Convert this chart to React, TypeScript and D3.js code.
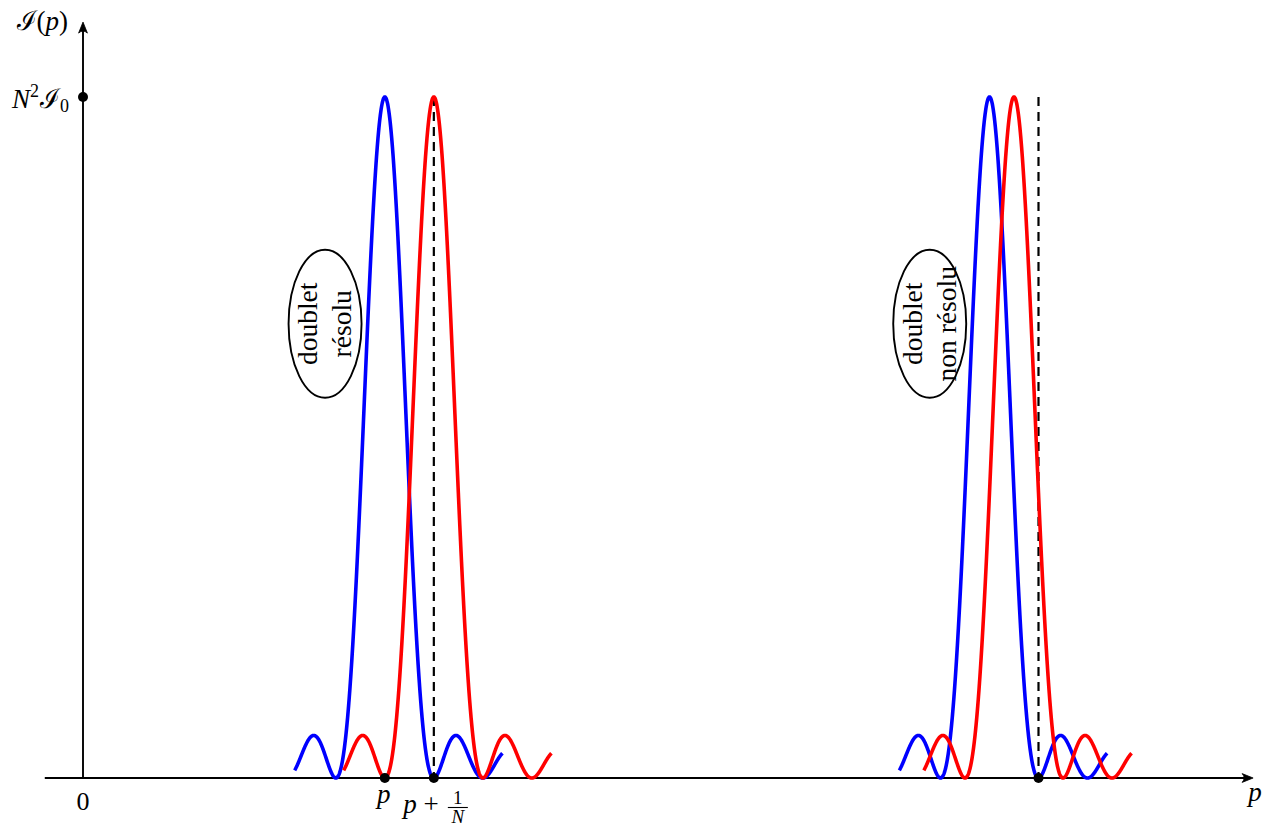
import React from 'react';
import * as d3 from 'd3';

// ---- data ----
const N_SLITS = 5; // number of slits used for the diffraction profile
const bluePeaks = [6.16, 18.5]; // peak positions (units of 1/N)
const redPeaks = [7.16, 19.0];
const lobeRange = [-1.84, 2.4]; // plotted extent around each peak (units of 1/N)
const dashedMarks = [7.16, 19.5];
const axisDots = [6.16, 7.16, 19.5];
const peakLevel = [1];
const xAxisExtent = [-0.78, 23.88];
const yAxisExtent = [0, 1.11];
const annotations = [
  { cx: 4.94, cy: 0.667, lines: ['doublet', 'résolu'] },
  { cx: 17.28, cy: 0.667, lines: ['doublet', 'non résolu'] },
];

const W = 1270;
const H = 826;
const FONT = '"Liberation Serif", "DejaVu Serif", serif';

const x = d3.scaleLinear().domain([0, 1]).range([83, 132]);
const y = d3.scaleLinear().domain([0, 1]).range([778, 97]);

function intensity(u: number): number {
  const den = N_SLITS * Math.sin((Math.PI * u) / N_SLITS);
  if (Math.abs(den) < 1e-9) return 1;
  const r = Math.sin(Math.PI * u) / den;
  return r * r;
}

function profile(peak: number): [number, number][] {
  const pts: [number, number][] = [];
  const step = 0.005;
  for (let u = lobeRange[0]; u <= lobeRange[1] + 1e-9; u += step) {
    pts.push([peak + u, intensity(u)]);
  }
  return pts;
}

const line = d3
  .line<[number, number]>()
  .x((d) => x(d[0]))
  .y((d) => y(d[1]));

function ArrowHead({ tx, ty, dir }: { tx: number; ty: number; dir: 'right' | 'up' }) {
  const L = 11;
  const w = 4.4;
  let d: string;
  if (dir === 'right') {
    d = `M${tx},${ty} L${tx - L},${ty - w} Q${tx - L + 4},${ty} ${tx - L},${ty + w} Z`;
  } else {
    d = `M${tx},${ty} L${tx - w},${ty + L} Q${tx},${ty + L - 4} ${tx + w},${ty + L} Z`;
  }
  return <path d={d} fill="#000" stroke="#000" strokeWidth={0.8} strokeLinejoin="round" />;
}

export default function App() {
  const x0 = x(xAxisExtent[0]);
  const x1 = x(xAxisExtent[1]);
  const yBase = y(0);
  const yTop = y(yAxisExtent[1]);
  const yAxisX = x(0);

  return (
    <svg
      width={W}
      height={H}
      viewBox={`0 0 ${W} ${H}`}
      style={{ position: 'absolute', left: 0, top: 0, background: '#fff' }}
      fontFamily={FONT}
    >
      {/* axes */}
      <line x1={x0} y1={yBase} x2={x1 - 4} y2={yBase} stroke="#000" strokeWidth={1.9} />
      <ArrowHead tx={x1} ty={yBase} dir="right" />
      <line x1={yAxisX} y1={yBase} x2={yAxisX} y2={yTop + 4} stroke="#000" strokeWidth={1.9} />
      <ArrowHead tx={yAxisX} ty={yTop} dir="up" />

      {/* dashed markers */}
      {dashedMarks.map((m, i) => (
        <line
          key={'d' + i}
          x1={x(m)}
          y1={y(peakLevel[0])}
          x2={x(m)}
          y2={yBase}
          stroke="#000"
          strokeWidth={2.2}
          strokeDasharray="9 6"
        />
      ))}

      {/* curves */}
      {bluePeaks.map((p, i) => (
        <path key={'b' + i} d={line(profile(p)) || ''} fill="none" stroke="#0000ff" strokeWidth={3.6} />
      ))}
      {redPeaks.map((p, i) => (
        <path key={'r' + i} d={line(profile(p)) || ''} fill="none" stroke="#ff0000" strokeWidth={3.6} />
      ))}

      {/* dots */}
      <circle cx={yAxisX} cy={y(peakLevel[0])} r={5} fill="#000" />
      {axisDots.map((d, i) => (
        <circle key={'c' + i} cx={x(d)} cy={yBase} r={5} fill="#000" />
      ))}

      {/* annotations */}
      {annotations.map((a, i) => {
        const cx = x(a.cx);
        const cy = y(a.cy);
        return (
          <g key={'a' + i}>
            <ellipse cx={cx} cy={cy} rx={36.5} ry={74} fill="none" stroke="#000" strokeWidth={1.9} />
            <g transform={`translate(${cx},${cy}) rotate(-90)`}>
              <text x={0} y={-8} textAnchor="middle" fontSize={27.5}>
                {a.lines[0]}
              </text>
              <text x={0} y={26} textAnchor="middle" fontSize={27.5}>
                {a.lines[1]}
              </text>
            </g>
          </g>
        );
      })}

      {/* labels */}
      <text x={68} y={30} textAnchor="end" fontSize={27}>
        <tspan>ℐ</tspan>
        <tspan>(</tspan>
        <tspan fontStyle="italic">p</tspan>
        <tspan>)</tspan>
      </text>
      <text x={69} y={108} textAnchor="end" fontSize={27}>
        <tspan fontStyle="italic">N</tspan>
        <tspan fontSize={18} dy={-11}>2</tspan>
        <tspan dy={11} dx={1}>ℐ</tspan>
        <tspan fontSize={18} dy={4}>0</tspan>
      </text>
      <text x={yAxisX} y={810} textAnchor="middle" fontSize={26}>
        0
      </text>
      <text x={x(axisDots[0]) - 1} y={803} textAnchor="middle" fontSize={27} fontStyle="italic">
        p
      </text>
      <text x={x(axisDots[1]) + 5} y={813} textAnchor="end" fontSize={27}>
        <tspan fontStyle="italic">p</tspan>
        <tspan> + </tspan>
      </text>
      <text x={x(axisDots[1]) + 24} y={804} textAnchor="middle" fontSize={19}>
        1
      </text>
      <line
        x1={x(axisDots[1]) + 14}
        x2={x(axisDots[1]) + 34}
        y1={807.5}
        y2={807.5}
        stroke="#000"
        strokeWidth={1.1}
      />
      <text x={x(axisDots[1]) + 24} y={823} textAnchor="middle" fontSize={19} fontStyle="italic">
        N
      </text>
      <text x={1255} y={801} textAnchor="middle" fontSize={27} fontStyle="italic">
        p
      </text>
    </svg>
  );
}
